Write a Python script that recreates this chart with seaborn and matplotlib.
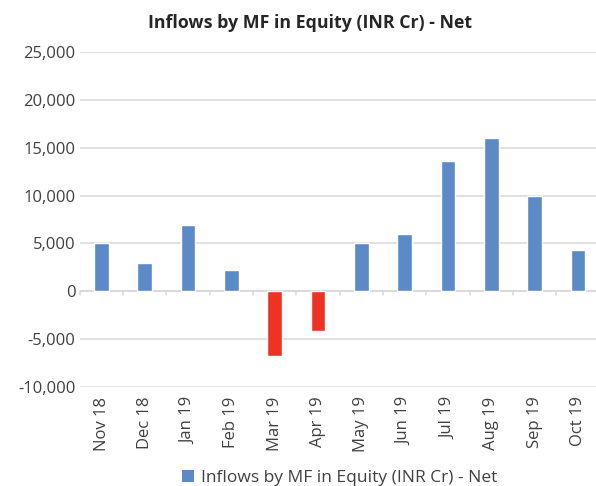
import pandas as pd
import seaborn as sns
import matplotlib.pyplot as plt
from matplotlib.patches import Patch
from matplotlib.ticker import FuncFormatter, MultipleLocator

months = ["Nov 18", "Dec 18", "Jan 19", "Feb 19", "Mar 19", "Apr 19",
          "May 19", "Jun 19", "Jul 19", "Aug 19", "Sep 19", "Oct 19"]
inflows = [5000, 2900, 6900, 2200, -6750, -4200,
           5000, 6000, 13600, 16000, 10000, 4300]
series_name = "Inflows by MF in Equity (INR Cr) - Net"

BLUE = "#5B8AC7"
RED = "#EE3224"
TEXT = "#404040"
GRID = "#D9D9D9"

sns.set_theme(style="white")
plt.rcParams["font.family"] = ["Open Sans", "DejaVu Sans"]

df = pd.DataFrame({"month": months, "value": inflows})
colors = {m: (RED if v < 0 else BLUE) for m, v in zip(months, inflows)}

fig = plt.figure(figsize=(5.96, 4.86), dpi=100)
ax = fig.add_axes([0.134, 0.204, 0.872, 0.689])

sns.barplot(data=df, x="month", y="value", hue="month", palette=colors,
            width=0.34, legend=False, saturation=1, ax=ax)

ax.set_ylim(-10000, 25000)
ax.yaxis.set_major_locator(MultipleLocator(5000))
ax.yaxis.set_major_formatter(FuncFormatter(lambda v, p: f"{v:,.0f}"))
ax.set_xlim(-0.5, len(months) - 0.5)
ax.grid(axis="y", color=GRID, linewidth=1.1)
ax.set_axisbelow(True)
for s in ax.spines.values():
    s.set_visible(False)
ax.axhline(0, color=GRID, linewidth=1.1, zorder=0.5)

# category boundary ticks on the zero line
for k in range(len(months) + 1):
    ax.plot([k - 0.5, k - 0.5], [0, -450], color=GRID, linewidth=1.1,
            zorder=0.5, clip_on=False)

ax.set_xlabel("")
ax.set_ylabel("")
ax.tick_params(axis="y", length=0, labelsize=12, labelcolor=TEXT, pad=3)
ax.tick_params(axis="x", length=0, labelsize=12, labelcolor=TEXT,
               labelrotation=90, pad=7)

fig.text(0.52, 0.953, series_name, ha="center", va="center",
         fontsize=12.8, fontweight="bold", color="#262626")

handle = Patch(facecolor=BLUE, edgecolor="none")
fig.legend([handle], [series_name], loc="center", bbox_to_anchor=(0.57, 0.016),
           frameon=False, fontsize=12.5, labelcolor=TEXT, handlelength=0.7,
           handleheight=0.7, handletextpad=0.4)

fig.savefig("out.png", dpi=100)
